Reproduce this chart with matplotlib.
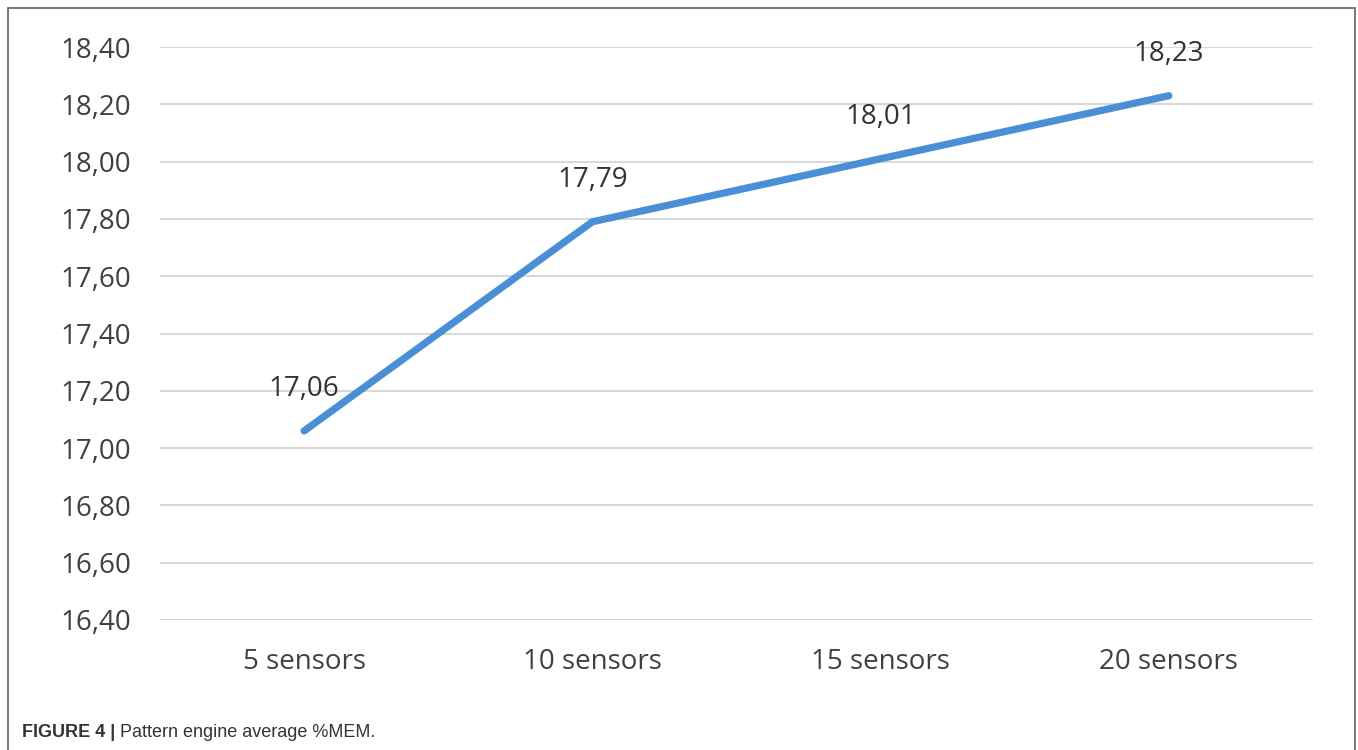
import matplotlib
matplotlib.use("Agg")
import matplotlib.pyplot as plt
from matplotlib.patches import Rectangle

categories = ["5 sensors", "10 sensors", "15 sensors", "20 sensors"]
values = [17.06, 17.79, 18.01, 18.23]
labels = ["17,06", "17,79", "18,01", "18,23"]
yticks = [16.40, 16.60, 16.80, 17.00, 17.20, 17.40, 17.60, 17.80, 18.00, 18.20, 18.40]
caption_bold = "FIGURE 4 |"
caption_text = " Pattern engine average %MEM."

fig = plt.figure(figsize=(13.58, 7.5), dpi=100)
W, H = 1358, 750

# outer frame
fig.patches.append(Rectangle((8 / W, -0.05), (1355 - 8) / W, 1 - 8 / H + 0.05,
                             transform=fig.transFigure, fill=False,
                             edgecolor="#6e6e6e", linewidth=1.3))

ax = fig.add_axes([160 / W, 1 - 620 / H, (1313 - 160) / W, (620 - 47) / H])
x = list(range(len(categories)))
ax.plot(x, values, color="#4a8fd6", linewidth=5.2, solid_capstyle="round", zorder=3)
for xi, v, lab in zip(x, values, labels):
    ax.annotate(lab, (xi, v), xytext=(0, 20), textcoords="offset points",
                ha="center", va="bottom", fontsize=20, color="#333333",
                family="Open Sans")

ax.set_xlim(-0.5, len(categories) - 0.5)
ax.set_ylim(16.4, 18.4)
ax.set_yticks(yticks)
ax.set_yticklabels([f"{t:.2f}".replace(".", ",") for t in yticks],
                   fontsize=20, color="#404040", family="Open Sans")
ax.set_xticks(x)
ax.set_xticklabels(categories, fontsize=20, color="#404040", family="Open Sans")
ax.tick_params(axis="both", length=0)
ax.tick_params(axis="y", pad=21)
ax.tick_params(axis="x", pad=20)
ax.grid(axis="y", color="#d9d9d9", linewidth=1.5)
ax.set_axisbelow(True)
for s in ax.spines.values():
    s.set_visible(False)

t = fig.text(22 / W, 1 - 737 / H, caption_bold, fontsize=13, fontweight="bold",
             color="#333333", family="Liberation Sans", va="baseline")
fig.canvas.draw()
bb = t.get_window_extent()
fig.text(bb.x1 / W, 1 - 737 / H, caption_text, fontsize=13,
         color="#333333", family="Liberation Sans", va="baseline")

fig.savefig("out.png", dpi=100)
